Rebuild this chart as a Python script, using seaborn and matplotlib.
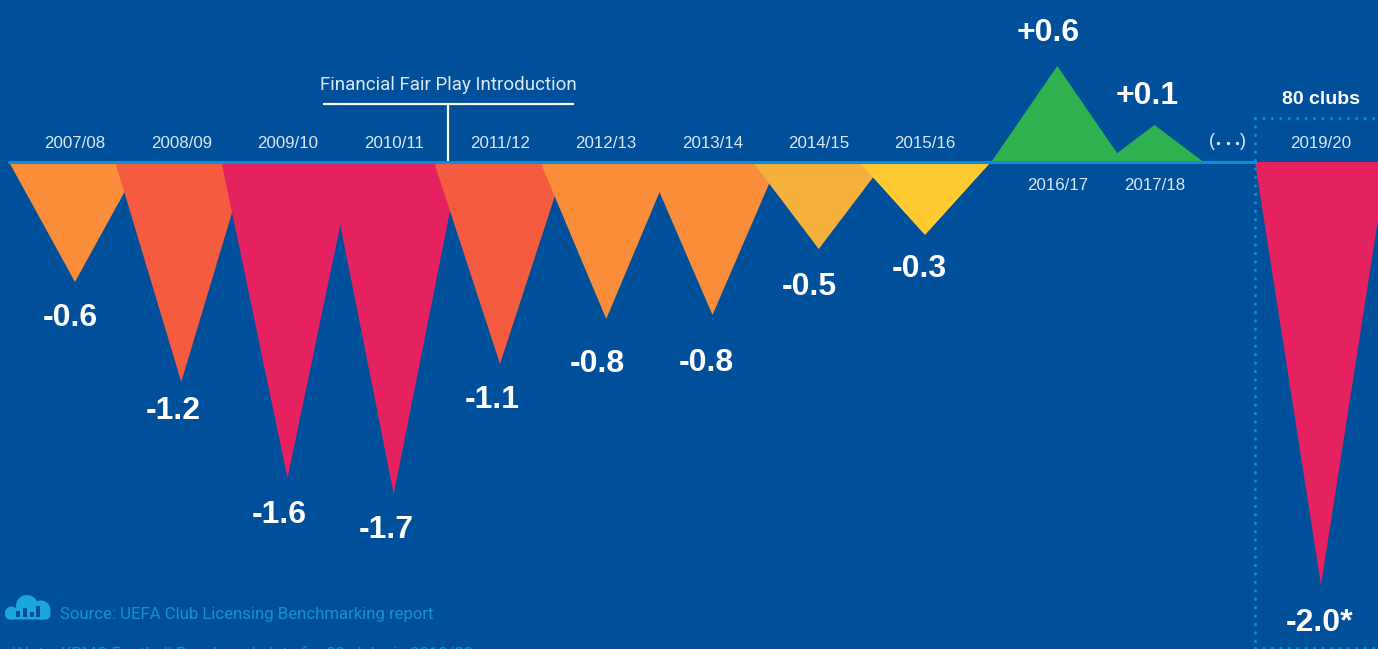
import matplotlib
matplotlib.use("Agg")
import matplotlib.pyplot as plt
from matplotlib.patches import Circle, FancyBboxPatch, Rectangle
import numpy as np
import pandas as pd
import seaborn as sns

# ------------------------------------------------------------------------------ #
# data
# ------------------------------------------------------------------------------ #

seasons = [
    "2007/08", "2008/09", "2009/10", "2010/11", "2011/12", "2012/13",
    "2013/14", "2014/15", "2015/16", "2016/17", "2017/18", "2019/20",
]
start_year = [2007, 2008, 2009, 2010, 2011, 2012, 2013, 2014, 2015, 2016, 2017, 2019]
value_labels = [
    "-0.6", "-1.2", "-1.6", "-1.7", "-1.1", "-0.8",
    "-0.8", "-0.5", "-0.3", "+0.6", "+0.1", "-2.0*",
]
# the triangles are not to scale with the labels, so this is the drawn height
drawn_height = [
    -0.60, -1.10, -1.58, -1.66, -1.01, -0.785,
    -0.765, -0.435, -0.365, 0.48, 0.185, -2.115,
]

# ------------------------------------------------------------------------------ #
# style and layout, all in pixels of the 1378x649 picture
# ------------------------------------------------------------------------------ #

BG = "#004F9A"
LINE = "#0A8FD6"
TEXT = "#DDE8F3"
NOTE = "#1590D4"
colors = [
    "#F98D39", "#F45B3F", "#E5225F", "#E5225F", "#F45B3F", "#F98D39",
    "#F98D39", "#F5B03E", "#FFCB30", "#2EB24F", "#2EB24F", "#E5225F",
]
PX_YEAR = 106.25
PX_UNIT = 200.0
X0, Y0 = 75.0, 162.0
# seasons after the gap do not sit on the regular year grid
nudge = {2016: 26, 2017: 17, 2019: -29}
half_width = {2017: 49}
label_offset = [
    (-5, -36), (-8, -29), (-8, -37), (-7, -36), (-8, -36), (-9, -45),
    (-6, -48), (-9, -38), (-6, -34), (-9, 33), (-7, 29), (-1, -38),
]
below_axis = ["2016/17", "2017/18"]

sns.set_theme(style="white", rc={"axes.facecolor": BG, "figure.facecolor": BG})
plt.rcParams["font.family"] = ["Liberation Sans", "DejaVu Sans"]

fig = plt.figure(figsize=(13.78, 6.49), dpi=100)
ax = fig.add_axes([0, 0, 1, 1])
ax.set_xlim(2007 - X0 / PX_YEAR, 2007 + (1378 - X0) / PX_YEAR)
ax.set_ylim(-(649 - Y0) / PX_UNIT, Y0 / PX_UNIT)
ax.axis("off")

# overlay in picture pixels for the furniture
deco = fig.add_axes([0, 0, 1, 1])
deco.patch.set_alpha(0)

# ------------------------------------------------------------------------------ #
# triangles, later seasons lie on top of earlier ones
# ------------------------------------------------------------------------------ #

for i, season in enumerate(seasons):
    yr = start_year[i]
    x = yr + nudge.get(yr, 0) / PX_YEAR
    hw = half_width.get(yr, 66) / PX_YEAR
    ax.fill([x - hw, x, x + hw], [0, drawn_height[i], 0], color=colors[i], lw=0, zorder=2 + i * 0.01)

    ax.annotate(
        value_labels[i],
        xy=(x, drawn_height[i]),
        xytext=label_offset[i],
        textcoords="offset pixels",
        ha="center",
        va="center",
        color="white",
        fontsize=23,
        fontweight="bold",
    )

    dy = -24 if season in below_axis else 18
    ax.annotate(
        season,
        xy=(x, 0),
        xytext=(0, dy),
        textcoords="offset pixels",
        ha="center",
        va="center",
        color=TEXT,
        fontsize=12.2,
    )

# baseline
base = pd.DataFrame({"x": [9, 1255], "y": [161.5, 161.5]})
sns.lineplot(data=base, x="x", y="y", ax=deco, color=LINE, lw=2.2, zorder=5, errorbar=None)
deco.set_xlim(0, 1378)
deco.set_ylim(649, 0)
deco.axis("off")

# ------------------------------------------------------------------------------ #
# annotations
# ------------------------------------------------------------------------------ #

deco.plot([323, 574], [103.5, 103.5], color="white", lw=1.6, solid_capstyle="butt")
deco.plot([448, 448], [103.5, 161], color="white", lw=1.6, solid_capstyle="butt")
deco.text(448, 85, "Financial Fair Play Introduction", ha="center", va="center",
          color=TEXT, fontsize=13.5, fontfamily="Roboto")

# dotted box round the last season
dots = dict(color=LINE, lw=2.2, ls=(0, (0.01, 2.75)), dash_capstyle="round", zorder=4)
deco.plot([1254.5, 1254.5], [118, 648], **dots)
deco.plot([1254.5, 1378], [118, 118], **dots)
deco.plot([1254.5, 1378], [648, 648], **dots)

deco.text(1321, 99, "80 clubs", ha="center", va="center", color="white",
          fontsize=14, fontweight="bold")

# the gap in the seasons
deco.text(1211.5, 142, "(", ha="center", va="center", color=TEXT, fontsize=13)
deco.text(1243, 142, ")", ha="center", va="center", color=TEXT, fontsize=13)
deco.scatter([1218, 1227.5, 1237], [143, 143, 143], s=6, color=TEXT, lw=0)

# cloud icon
ICON = "#1BA6E0"
deco.add_patch(FancyBboxPatch((5, 608.5), 45.5, 11, boxstyle="round,pad=0,rounding_size=5.5",
                              fc=ICON, ec="none"))
deco.add_patch(Circle((11.5, 613), 6.5, fc=ICON, ec="none"))
deco.add_patch(Circle((27, 606), 11, fc=ICON, ec="none"))
deco.add_patch(Circle((41, 610), 9.5, fc=ICON, ec="none"))
for bx, by in zip([16, 23, 30, 36], [611, 608, 612, 606]):
    deco.add_patch(Rectangle((bx, by), 3.7, 617 - by, fc=BG, ec="none", zorder=3))

deco.text(60, 614.5, "Source: UEFA Club Licensing Benchmarking report", ha="left", va="center",
          color=NOTE, fontsize=12.1, fontfamily="Roboto")
deco.text(10, 654, "*Note: KPMG Football Benchmark data for 80 clubs in 2019/20", ha="left", va="center",
          color=NOTE, fontsize=12, fontfamily="Roboto", clip_on=False)

fig.savefig("out.png", dpi=100, facecolor=BG)
